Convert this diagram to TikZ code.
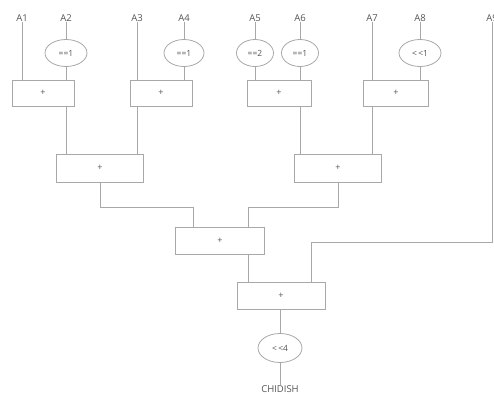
\documentclass[tikz,border=0pt]{standalone}
\usepackage{fontspec}
\setmainfont{Open Sans}
\usetikzlibrary{shapes.geometric,calc}
\definecolor{ln}{HTML}{A8A8A8}
\definecolor{tx}{HTML}{555555}
\tikzset{
  lbl/.style={text=tx,font=\fontsize{9.5}{10}\selectfont,inner sep=0pt},
  opbox/.style={draw=ln,line width=0.8pt,minimum height=26pt,inner sep=0pt,text=tx,font=\fontsize{9}{10}\selectfont},
  cmp/.style={draw=ln,line width=0.8pt,ellipse,minimum height=27pt,inner sep=0pt,text=tx,font=\fontsize{8.5}{10}\selectfont},
  wire/.style={draw=ln,line width=0.8pt}
}
\begin{document}
\begin{tikzpicture}[x=1pt,y=-1pt]
\useasboundingbox (0,0) rectangle (494,394);
% input labels
\node[lbl] (A1) at (22,18) {A1};
\node[lbl] (A2) at (66,18) {A2};
\node[lbl] (A3) at (137,18) {A3};
\node[lbl] (A4) at (184,18) {A4};
\node[lbl] (A5) at (255,18) {A5};
\node[lbl] (A6) at (300,18) {A6};
\node[lbl] (A7) at (372,18) {A7};
\node[lbl] (A8) at (420,18) {A8};
\node[lbl] (A9) at (492,18) {A9};
% comparators
\node[cmp,minimum width=42pt] (e2) at (66,53) {==1};
\node[cmp,minimum width=40pt] (e4) at (184,53) {==1};
\node[cmp,minimum width=37pt] (e5) at (255,53) {==2};
\node[cmp,minimum width=37pt] (e6) at (300,53) {==1};
\node[cmp,minimum width=42pt] (e8) at (420,53) {<\,<1};
% first row adders
\node[opbox,minimum width=62pt] (b1) at (43,93) {+};
\node[opbox,minimum width=62pt] (b2) at (161,93) {+};
\node[opbox,minimum width=64pt] (b3) at (279,93) {+};
\node[opbox,minimum width=65pt] (b4) at (396,93) {+};
% second row
\node[opbox,minimum width=87pt,minimum height=28pt] (c1) at (100,168) {+};
\node[opbox,minimum width=87pt,minimum height=28pt] (c2) at (338,168) {+};
% third row
\node[opbox,minimum width=89pt,minimum height=27pt] (d) at (220,241) {+};
% fourth row
\node[opbox,minimum width=88pt,minimum height=27pt] (f) at (281,296) {+};
\node[cmp,minimum width=44pt,minimum height=29pt] (eo) at (280,348) {<\,<4};
\node[lbl] (out) at (280,389) {CHIDISH};
% junction coordinates
\coordinate (j1) at (0,207);
\coordinate (j2) at (0,242);
\coordinate (dL) at (193,0);
\coordinate (dR) at (248,0);
\coordinate (fR) at (311,0);
% wires: inputs to first row
\draw[wire] (A1) -- (A1 |- b1.north);
\draw[wire] (A2) -- (e2);
\draw[wire] (e2) -- (e2 |- b1.north);
\draw[wire] (A3) -- (A3 |- b2.north);
\draw[wire] (A4) -- (e4);
\draw[wire] (e4) -- (e4 |- b2.north);
\draw[wire] (A5) -- (e5);
\draw[wire] (e5) -- (e5 |- b3.north);
\draw[wire] (A6) -- (e6);
\draw[wire] (e6) -- (e6 |- b3.north);
\draw[wire] (A7) -- (A7 |- b4.north);
\draw[wire] (A8) -- (e8);
\draw[wire] (e8) -- (e8 |- b4.north);
% first row to second row
\draw[wire] (e2 |- b1.south) -- (e2 |- c1.north);
\draw[wire] (A3 |- b2.south) -- (A3 |- c1.north);
\draw[wire] (e6 |- b3.south) -- (e6 |- c2.north);
\draw[wire] (A7 |- b4.south) -- (A7 |- c2.north);
% second row to third
\draw[wire] (c1.south) -- (c1.south |- j1) -| (dL |- d.north);
\draw[wire] (c2.south) -- (c2.south |- j1) -| (dR |- d.north);
% third to fourth
\draw[wire] (dR |- d.south) -- (dR |- f.north);
\draw[wire] (A9) -- (A9 |- j2) -| (fR |- f.north);
% output
\draw[wire] (f.south -| eo) -- (eo);
\draw[wire] (eo) -- (out);
\end{tikzpicture}
\end{document}
